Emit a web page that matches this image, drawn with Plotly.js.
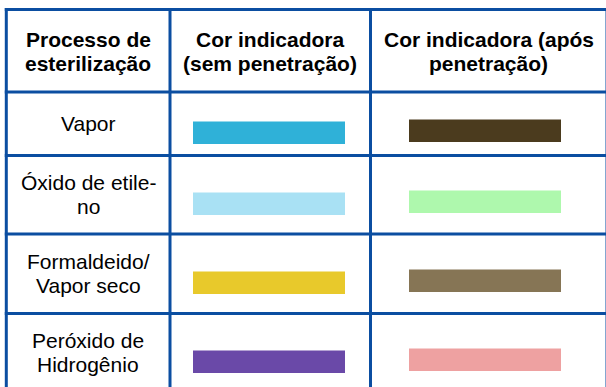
<!DOCTYPE html>
<html>
<head>
<meta charset="utf-8">
<script src="https://cdn.plot.ly/plotly-3.0.1.min.js"></script>
<style>html,body{margin:0;padding:0;background:#fff}#chart{width:606px;height:387px}</style>
</head>
<body>
<div id="chart"></div>
<script>
// ---- data ----
var headers = ["Processo de|esterilização", "Cor indicadora|(sem penetração)", "Cor indicadora (após|penetração)"];
var processes = ["Vapor", "Óxido de etile-|no", "Formaldeido/|Vapor seco", "Peróxido de|Hidrogênio"];
var colorBefore = ["#2fb1d8", "#a9e1f4", "#e8c92b", "#6a49a8"];
var colorAfter = ["#4b3b1e", "#aef8ad", "#867555", "#eea1a1"];

// ---- layout constants ----
var W = 606, H = 387;
var rowEdges = [9.5, 92, 155.5, 234, 313.5, 392];
var colEdges = [6.3, 170, 370.5, 607];
var lineColor = "#0b4ea1";
var fontFamily = "Liberation Sans, Arial, sans-serif";
var fontSize = 21, lineGap = 24;
var swW = 152, swH = 22.5;
var swLeft = [colEdges[1] + 23, colEdges[2] + 38.5];
var swOff = [9, 7];

var traces = [];

// grid lines
var gx = [], gy = [];
rowEdges.forEach(function (y) { gx.push(colEdges[0] - 1.5, W + 10, null); gy.push(y, y, null); });
colEdges.forEach(function (x) { gx.push(x, x, null); gy.push(rowEdges[0] - 1.5, H + 10, null); });
traces.push({type: "scatter", mode: "lines", x: gx, y: gy, line: {color: lineColor, width: 3}, hoverinfo: "skip", cliponaxis: true});

// swatches
function rowCenter(i) { return (rowEdges[i + 1] + rowEdges[i + 2]) / 2; }
[colorBefore, colorAfter].forEach(function (cols, c) {
  traces.push({
    type: "bar", orientation: "h",
    y: cols.map(function (_, i) { return rowCenter(i) + swOff[c]; }),
    x: cols.map(function () { return swW; }),
    base: cols.map(function () { return swLeft[c]; }),
    width: cols.map(function () { return swH; }),
    marker: {color: cols, line: {width: 0}},
    hoverinfo: "skip"
  });
});

// text
var annotations = [];
function addCell(text, cx, cy, bold) {
  var lines = text.split("|");
  var n = lines.length;
  lines.forEach(function (ln, k) {
    annotations.push({
      xref: "x", yref: "y", x: cx, y: cy + (k - (n - 1) / 2) * lineGap,
      text: bold ? "<b>" + ln + "</b>" : ln, showarrow: false,
      xanchor: "center", yanchor: "middle",
      font: {family: fontFamily, size: fontSize, color: "#000"}
    });
  });
}
headers.forEach(function (h, j) {
  addCell(h, (colEdges[j] + colEdges[j + 1]) / 2, (rowEdges[0] + rowEdges[1]) / 2 + 0.5, true);
});
processes.forEach(function (p, i) {
  addCell(p, (colEdges[0] + colEdges[1]) / 2, rowCenter(i), false);
});

var layout = {
  width: W, height: H,
  margin: {l: 0, r: 0, t: 0, b: 0, pad: 0},
  paper_bgcolor: "#fff", plot_bgcolor: "#fff",
  showlegend: false, hovermode: false, barmode: "overlay",
  xaxis: {range: [0, W], visible: false, fixedrange: true},
  yaxis: {range: [H, 0], visible: false, fixedrange: true},
  annotations: annotations
};
Plotly.newPlot("chart", traces, layout, {staticPlot: true, displayModeBar: false});
</script>
</body>
</html>
